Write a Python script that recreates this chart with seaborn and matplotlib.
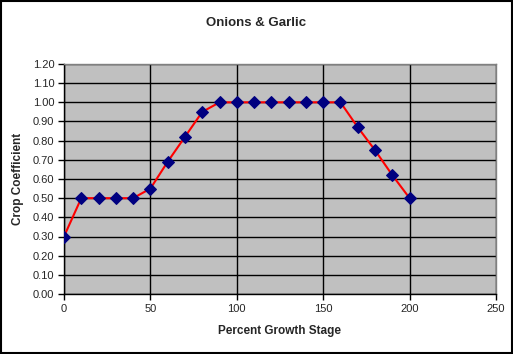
import matplotlib
matplotlib.use("Agg")
import matplotlib.pyplot as plt
import seaborn as sns
import pandas as pd

growth_stage = [0, 10, 20, 30, 40, 50, 60, 70, 80, 90, 100, 110, 120, 130, 140, 150, 160, 170, 180, 190, 200]
crop_coeff = [0.30, 0.50, 0.50, 0.50, 0.50, 0.55, 0.69, 0.82, 0.95, 1.00, 1.00, 1.00, 1.00, 1.00, 1.00, 1.00, 1.00, 0.87, 0.75, 0.62, 0.50]
title = "Onions & Garlic"
xlabel = "Percent Growth Stage"
ylabel = "Crop Coefficient"

sns.set_style("white")
plt.rcParams['font.family'] = ['Liberation Sans', 'DejaVu Sans']

df = pd.DataFrame({"x": growth_stage, "y": crop_coeff})

fig = plt.figure(figsize=(5.13, 3.54), dpi=100)
fig.patch.set_facecolor("white")
ax = fig.add_axes([64/513, 60/354, 432/513, 230/354])
ax.set_facecolor("#C0C0C0")

sns.lineplot(data=df, x="x", y="y", ax=ax, color="red", linewidth=1.5,
             marker="D", markersize=6.5, markerfacecolor="#000080",
             markeredgecolor="#000080", zorder=3)

ax.set_xlim(0, 250)
ax.set_ylim(0, 1.2)
ax.set_xticks([0, 50, 100, 150, 200, 250])
ax.set_yticks([i / 10 for i in range(13)])
ax.set_yticklabels([f"{i/10:.2f}" for i in range(13)])
ax.grid(True, color="black", linewidth=1)
ax.set_axisbelow(True)
ax.tick_params(axis="both", direction="out", length=4, width=1, color="black",
               labelsize=8, pad=3, left=True, bottom=True)
for side in ["top", "right"]:
    ax.spines[side].set_color("#808080")
    ax.spines[side].set_linewidth(1)
for side in ["left", "bottom"]:
    ax.spines[side].set_color("black")
    ax.spines[side].set_linewidth(1)

ax.set_xlabel(xlabel, fontsize=8.5, fontweight="bold", labelpad=8)
ax.set_ylabel(ylabel, fontsize=8.5, fontweight="bold", labelpad=6)
fig.text(256/513, 1 - 23/354, title, ha="center", va="center", fontsize=9.5, fontweight="bold")

border = plt.Rectangle((0.001, 0.002), 0.997, 0.996, transform=fig.transFigure,
                       fill=False, edgecolor="black", linewidth=1.5)
fig.add_artist(border)

fig.savefig("out.png", dpi=100)
